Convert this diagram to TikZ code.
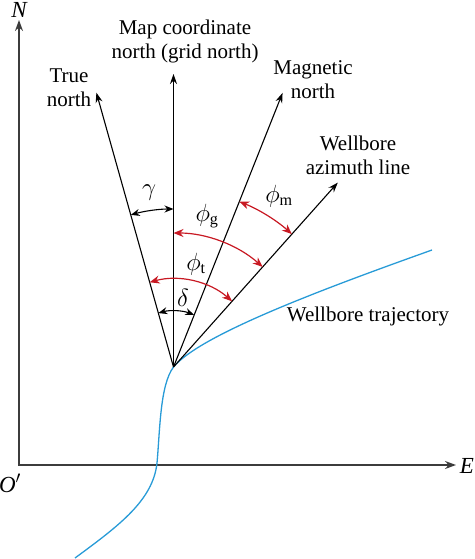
\documentclass[tikz,border=0pt]{standalone}
\usepackage{fontspec}
\setmainfont{Liberation Serif}
\usetikzlibrary{arrows.meta,calc}
\definecolor{axisgray}{RGB}{60,60,60}
\definecolor{arcred}{RGB}{200,25,35}
\definecolor{wellblue}{RGB}{40,155,215}
\tikzset{
  lbl/.style={font=\fontsize{21}{24}\selectfont, align=center, inner sep=0pt},
  sym/.style={font=\fontsize{23}{26}\selectfont, inner sep=0pt},
  ray/.style={line width=1.1pt, -{Stealth[length=10pt,width=7pt]}},
  axisline/.style={line width=1.5pt, draw=axisgray, {Stealth[length=11pt,width=8pt]}-{Stealth[length=11pt,width=8pt]}},
  blackarc/.style={line width=1.1pt, {Stealth[length=9pt,width=7pt]}-{Stealth[length=9pt,width=7pt]}},
  redarc/.style={line width=1.2pt, draw=arcred, {Stealth[length=10pt,width=8pt]}-{Stealth[length=10pt,width=8pt]}},
  traj/.style={line width=1.3pt, draw=wellblue}
}
\begin{document}
\begin{tikzpicture}[x=1pt,y=-1pt]
\useasboundingbox (0,0) rectangle (474,559);
% axes
\coordinate (ntip) at (19,20);
\coordinate (corner) at (19,465);
\coordinate (etip) at (456,465);
\draw[axisline] (ntip) -- (corner) -- (etip);
\node[sym] (N) at (19,10) {\itshape N};
\node[sym] (E) at (467,466) {\itshape E};
\node[sym] (Op) at (10,483) {\itshape O$'$};
% origin
\coordinate (O) at (173.5,367);
% trajectory
\coordinate (tstart) at (432,250);
\coordinate (tmid) at (157,463);
\coordinate (tend) at (75,558);
\draw[traj] (tstart) .. controls (320,290) and (200,335) .. (O)
  .. controls (160,385) and (160,430) .. (tmid)
  .. controls (153,500) and (120,525) .. (tend);
% rays
\coordinate (tn) at ($(O)+(-105.7:285)$);
\coordinate (gn) at ($(O)+(-90:293)$);
\coordinate (mn) at ($(O)+(-68.3:295)$);
\coordinate (az) at ($(O)+(-48.3:247)$);
\draw[ray] (O) -- (tn);
\draw[ray] (O) -- (gn);
\draw[ray] (O) -- (mn);
\draw[ray] (O) -- (az);
% angle arcs
\draw[blackarc] ($(O)+(-105.7:158)$) arc[start angle=-105.7, end angle=-90, radius=158];
\draw[redarc] ($(O)+(-90:134)$) arc[start angle=-90, end angle=-48.3, radius=134];
\draw[redarc] ($(O)+(-105.7:88)$) arc[start angle=-105.7, end angle=-48.3, radius=88];
\draw[blackarc] ($(O)+(-105.7:56)$) arc[start angle=-105.7, end angle=-68.3, radius=56];
\draw[redarc] ($(O)+(-68.3:178)$) arc[start angle=-68.3, end angle=-48.3, radius=178];
% angle labels
\node[sym] (gam) at (149,193) {$\gamma$};
\node[sym] (phig) at (207,216) {$\phi_{\mathrm{g}}$};
\node[sym] (phit) at (196,264) {$\phi_{\mathrm{t}}$};
\node[sym] (del) at (183,298) {$\delta$};
\node[sym] (phim) at (279,196) {$\phi_{\mathrm{m}}$};
% text labels
\node[lbl] (gnl) at (185,41) {Map coordinate\\north (grid north)};
\node[lbl] (tnl) at (69,88) {True\\north};
\node[lbl] (mnl) at (313,80) {Magnetic\\north};
\node[lbl] (azl) at (358,155) {Wellbore\\azimuth line};
\node[lbl] (wtl) at (368,316) {Wellbore trajectory};
\end{tikzpicture}
\end{document}
